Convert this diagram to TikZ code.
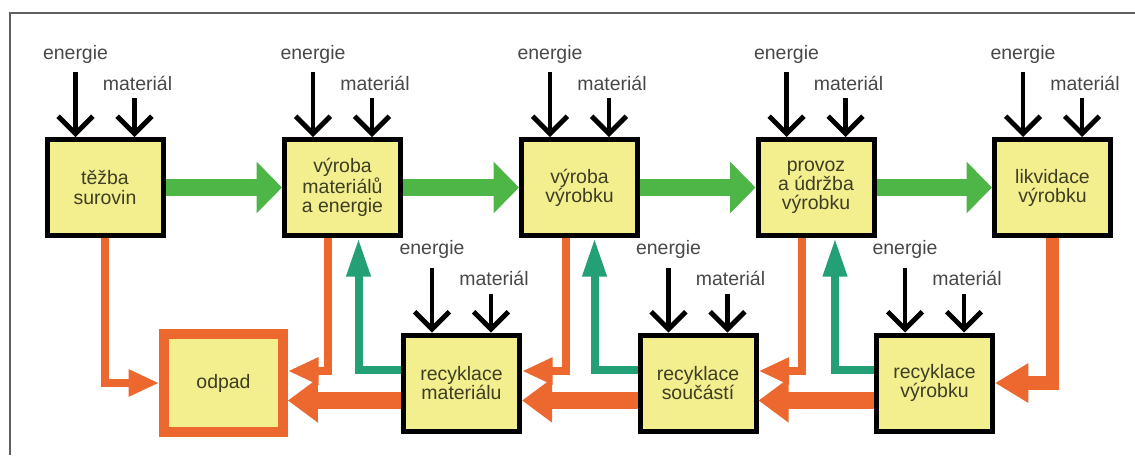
\documentclass[tikz,border=0pt]{standalone}
\usepackage{fontspec}
\setmainfont{Liberation Sans}
\usetikzlibrary{arrows.meta,calc}

\definecolor{boxyellow}{RGB}{243,238,142}
\definecolor{boxtext}{RGB}{62,62,36}
\definecolor{lbltext}{RGB}{72,72,72}
\definecolor{flowgreen}{RGB}{78,182,70}
\definecolor{backgreen}{RGB}{36,160,118}
\definecolor{wasteorange}{RGB}{236,104,46}
\definecolor{framegray}{RGB}{95,95,95}

\newcommand\boxfont{\fontsize{14.6pt}{14.3pt}\selectfont}

\tikzset{every picture/.style={line width=0.55pt},
  stage/.style={draw=black, line width=3.75pt, fill=boxyellow, minimum width=87pt,
    minimum height=72pt, inner sep=0pt, align=center, text=boxtext, font=\boxfont},
  dump/.style={stage, draw=wasteorange, line width=7.5pt, minimum width=89pt, minimum height=74pt},
  lbl/.style={inner sep=0pt, text=lbltext, font=\boxfont},
  feed/.style={line width=3.7pt, -{Straight Barb[length=13pt,width=26pt]}},
  flow/.style={draw=flowgreen, line width=12.75pt, -{Triangle[length=19pt,width=37.5pt]}},
  back/.style={draw=backgreen, line width=6pt, line join=miter, -{Triangle[length=29pt,width=17pt]}},
  waste/.style={draw=wasteorange, line width=6pt, line join=miter, -{Triangle[length=23pt,width=19pt]}},
  wastemid/.style={waste, line width=10pt, -{Triangle[length=25pt,width=28pt]}},
  wastethick/.style={waste, line width=12.75pt, -{Triangle[length=22.5pt,width=31.5pt]}}
}

\begin{document}
\begin{tikzpicture}[x=0.75pt,y=0.75pt,yscale=-1,xscale=1]
            \useasboundingbox (0,0) rectangle (1135,455);

            %Frame
            \draw [framegray, line width=1.5pt] (10,455) -- (10,13) -- (1135,13) ;

            % Stages of the life cycle
            \node [stage] (b1) at (105,187.5) {těžba\\surovin};
            \node [stage] (b2) at (342.5,187.5) {výroba\\materiálů\\a energie};
            \node [stage] (b3) at (579.5,187.5) {výroba\\výrobku};
            \node [stage] (b4) at (816,187.5) {provoz\\a údržba\\výrobku};
            \node [stage] (b5) at (1052.5,187.5) {likvidace\\výrobku};

            % Recycling and waste
            \node [dump] (odpad) at (223.5,383) {odpad};
            \node [stage] (r1) at (461.5,383) {recyklace\\materiálu};
            \node [stage] (r2) at (698,383) {recyklace\\součástí};
            \node [stage] (r3) at (934.5,383) {recyklace\\výrobku};

            % Inputs
            \foreach \b in {b1,b2,b3,b4,b5,r1,r2,r3}{
              \coordinate (\b-e) at ($(\b.north)+(-29.5,-65)$);
              \coordinate (\b-m) at ($(\b.north)+(29.5,-39)$);
              \node [lbl] (\b-el) at ($(\b-e)+(0,-18)$) {energie};
              \node [lbl] (\b-ml) at ($(\b-m)+(3,-15)$) {materiál};
              \draw [feed] (\b-e) -- (\b-e |- \b.north) ;
              \draw [feed] (\b-m) -- (\b-m |- \b.north) ;
            }

            % Main flow
            \draw [flow] (b1) -- (b2) ;
            \draw [flow] (b2) -- (b3) ;
            \draw [flow] (b3) -- (b4) ;
            \draw [flow] (b4) -- (b5) ;

            % Waste and returns
            \draw [waste] (b1.south) |- (odpad.west) ;
            \draw [waste] ($(b2.south)+(-15,0)$) |- ($(odpad.east)+(0,-12)$) ;
            \draw [wastethick] ($(r1.west)+(0,17.5)$) -- ($(odpad.east)+(0,17.5)$) ;
            \draw [back] ($(r1.west)+(0,-13)$) -| ($(b2.south)+(16,0)$) ;
            \draw [waste] ($(b3.south)+(-14,0)$) |- ($(r1.east)+(0,-12)$) ;
            \draw [wastethick] ($(r2.west)+(0,17.5)$) -- ($(r1.east)+(0,17.5)$) ;
            \draw [back] ($(r2.west)+(0,-13)$) -| ($(b3.south)+(15,0)$) ;
            \draw [waste] ($(b4.south)+(-14,0)$) |- ($(r2.east)+(0,-12)$) ;
            \draw [wastethick] ($(r3.west)+(0,17.5)$) -- ($(r2.east)+(0,17.5)$) ;
            \draw [back] ($(r3.west)+(0,-13)$) -| ($(b4.south)+(19,0)$) ;
            \draw [wastemid] (b5.south) |- (r3.east) ;
\end{tikzpicture}
\end{document}
